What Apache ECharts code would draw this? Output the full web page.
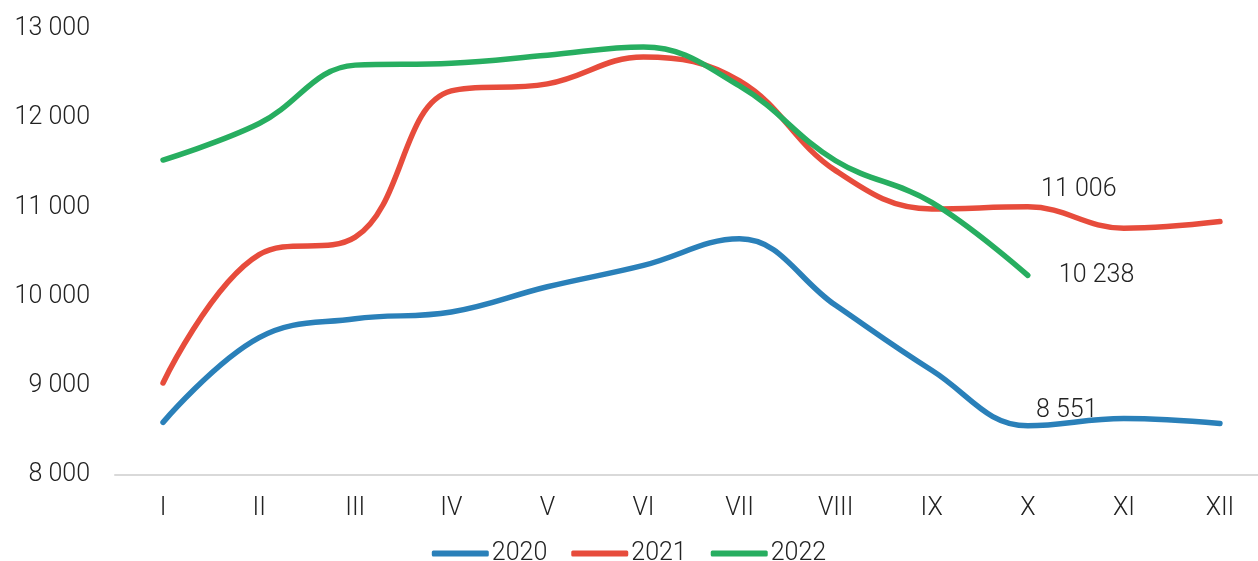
<!DOCTYPE html>
<html>
<head>
<meta charset="utf-8">
<script src="https://cdn.jsdelivr.net/npm/echarts@6/dist/echarts.min.js"></script>
<style>
html,body{margin:0;padding:0;background:#fff;}
#chart{width:1258px;height:561px;}
</style>
</head>
<body>
<div id="chart"></div>
<script>
const categories = ['I','II','III','IV','V','VI','VII','VIII','IX','X','XI','XII'];
const yTicks = [8000, 9000, 10000, 11000, 12000, 13000];
const s2020 = [8590, 9540, 9752, 9827, 10110, 10350, 10648, 9902, 9174, 8551, 8633, 8578];
const s2021 = [9032, 10470, 10666, 12306, 12385, 12687, 12418, 11412, 10983, 11006, 10767, 10841];
const s2022 = [11531, 11940, 12595, 12616, 12706, 12799, 12362, 11523, 11057, 10238];
const seriesNames = ['2020','2021','2022'];
const colors = ['#2a80b9', '#e74c3c', '#27ae60'];

function fmt(v){ return String(v).replace(/\B(?=(\d{3})+(?!\d))/g, ' '); }

const FONT = 'Roboto';
const txt = {fontFamily: FONT, fontWeight: 300, fontSize: 25, color: '#222'};

function withLabel(arr, idx, labelOpt){
  return arr.map((v,i)=> i===idx ? {value:v, label:Object.assign({show:true, formatter: fmt(v)}, txt, labelOpt)} : v);
}

function lineSeries(i, data){
  return {name:seriesNames[i], type:'line', smooth:0.4, symbol:'circle', symbolSize:0.1, showSymbol:true,
    itemStyle:{color:colors[i]},
    lineStyle:{width:5.5, cap:'round', join:'round', color:colors[i]},
    data:data};
}

const chart = echarts.init(document.getElementById('chart'), null, {renderer:'canvas'});
chart.setOption({
  animation:false,
  color: colors,
  grid:{left:115, width:1153, top:29, height:446, containLabel:false, outerBoundsMode:'none'},
  legend:{
    data: seriesNames, top: 536, left:'center',
    icon:'roundRect', itemWidth:57, itemHeight:6, itemGap:24,
    textStyle:Object.assign({}, txt, {padding:[0,0,0,-2]})
  },
  xAxis:{
    type:'category', data:categories, boundaryGap:true,
    axisLine:{show:true, lineStyle:{color:'#d9d9d9', width:2}},
    axisTick:{show:false},
    axisLabel:Object.assign({margin:21, interval:0}, txt)
  },
  yAxis:{
    type:'value', min:yTicks[0], max:yTicks[yTicks.length-1], interval:1000,
    axisLine:{show:false}, axisTick:{show:false},
    splitLine:{show:false},
    axisLabel:Object.assign({margin:25, formatter:(v)=>fmt(v)}, txt)
  },
  series:[
    lineSeries(0, withLabel(s2020, 9, {position:'top', offset:[39,2], distance:5})),
    lineSeries(1, withLabel(s2021, 9, {position:'top', offset:[51,0], distance:5})),
    lineSeries(2, withLabel(s2022, 9, {position:'right', distance:31}))
  ]
});
</script>
</body>
</html>
